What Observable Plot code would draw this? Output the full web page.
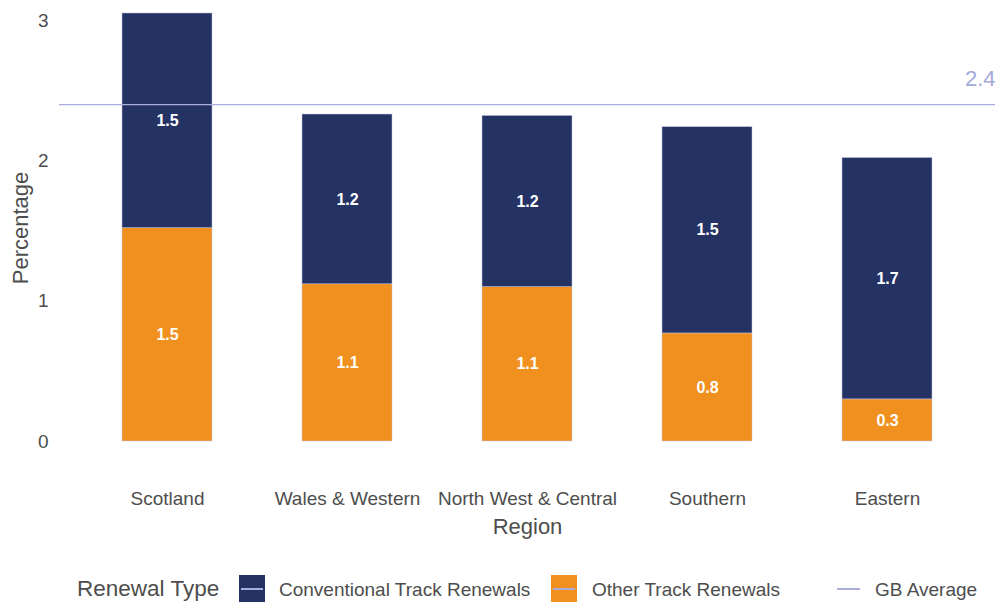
<!DOCTYPE html>
<html><head><meta charset="utf-8">
<script src="https://cdn.jsdelivr.net/npm/d3@7"></script>
<script src="https://cdn.jsdelivr.net/npm/@observablehq/plot@0.6"></script>
<style>
body{margin:0;background:#fff;font-family:"Liberation Sans",Arial,sans-serif}
#chart svg{display:block}
#legend{position:relative;width:1000px;height:60px;color:#4d4d4d}
#legend .t{position:absolute;white-space:nowrap;line-height:1;transform:translateY(-50%)}
#legend .k{position:absolute;width:26px;height:27px}
#legend .k::after{content:"";position:absolute;left:2px;right:2px;top:13px;height:1.5px;background:#a9aed9}
#legend .ln{position:absolute;height:1.5px;background:#a9aed9}
</style></head><body>
<div id="chart"></div>
<div id="legend"></div>
<script>
const regions = ["Scotland", "Wales & Western", "North West & Central", "Southern", "Eastern"];
const otherValues = [1.52, 1.12, 1.10, 0.77, 0.30];
const conventionalValues = [1.53, 1.21, 1.22, 1.47, 1.72];
const renewalTypes = ["Other Track Renewals", "Conventional Track Renewals"];
const typeColors = ["#f0901e", "#253264"];
const gbAverage = 2.4;
const yTicks = [0, 1, 2, 3];

const data = regions.flatMap((r, i) => [
  {region: r, type: renewalTypes[0], value: otherValues[i]},
  {region: r, type: renewalTypes[1], value: conventionalValues[i]}
]);

const grey = "#4d4d4d";
const chart = Plot.plot({
  width: 1000, height: 545,
  marginLeft: 59, marginRight: 5, marginTop: 20, marginBottom: 104,
  style: {fontFamily: '"Liberation Sans", Arial, sans-serif', background: "#fff"},
  x: {domain: regions, paddingInner: 0.5, paddingOuter: 0.35, axis: null},
  y: {domain: [0, 3], axis: null},
  color: {domain: renewalTypes, range: typeColors},
  marks: [
    Plot.barY(data, {x: "region", y: "value", fill: "type", stroke: "#c3c7e4", strokeWidth: 0.5}),
    Plot.text(data, Plot.stackY({x: "region", y: "value", text: d => d.value.toFixed(1), fill: "white", fontWeight: "bold", fontSize: 16})),
    Plot.ruleY([gbAverage], {stroke: "#a9aed9", strokeWidth: 1.3}),
    Plot.text([gbAverage], {y: d => d, text: d => d.toFixed(1), frameAnchor: "right", textAnchor: "end", dy: -26, fill: "#a3a9d9", fontSize: 22}),
    Plot.axisY({ticks: yTicks, tickFormat: d => String(d), tickSize: 0, tickPadding: 11, fontSize: 19, fill: grey, label: null}),
    Plot.axisX({tickSize: 0, tickPadding: 50, fontSize: 19, fill: grey, label: null}),
    Plot.text(["Region"], {frameAnchor: "bottom", textAnchor: "middle", lineAnchor: "middle", dy: 85, fontSize: 22, fill: grey}),
    Plot.text(["Percentage"], {frameAnchor: "left", textAnchor: "middle", lineAnchor: "middle", rotate: -90, dx: -39, dy: -3, fontSize: 22, fill: grey})
  ]
});
document.getElementById("chart").appendChild(chart);

const legend = document.getElementById("legend");
const cy = 44;
function addText(txt, x, size) {
  const s = document.createElement("div");
  s.className = "t"; s.textContent = txt;
  s.style.left = x + "px"; s.style.top = cy + "px"; s.style.fontSize = size + "px";
  legend.appendChild(s);
}
addText("Renewal Type", 77, 22.5);
const keyX = [239, 551];
const labelX = [279, 592];
[1, 0].forEach((ti, j) => {
  const k = document.createElement("div");
  k.className = "k";
  k.style.left = keyX[j] + "px"; k.style.top = (cy - 14) + "px";
  k.style.background = typeColors[ti];
  legend.appendChild(k);
  addText(renewalTypes[ti], labelX[j], 19);
});
const ln = document.createElement("div");
ln.className = "ln";
ln.style.left = "837px"; ln.style.width = "23px"; ln.style.top = (cy - 1) + "px";
legend.appendChild(ln);
addText("GB Average", 875, 19);
</script>
</body></html>
